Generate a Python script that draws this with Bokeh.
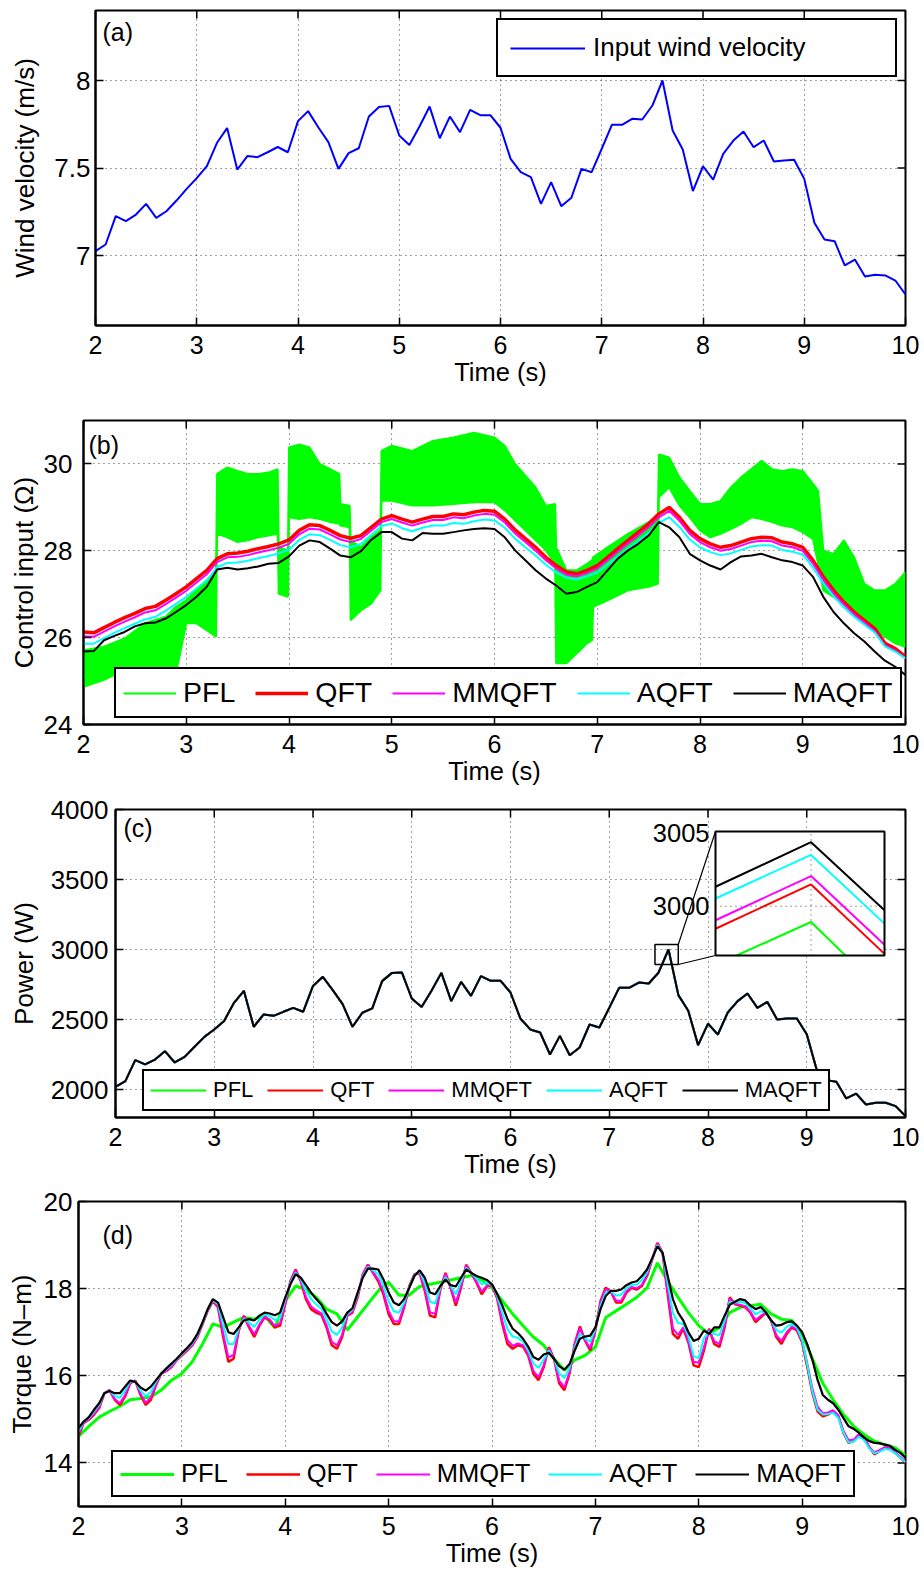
from bokeh.plotting import figure
from bokeh.layouts import column
from bokeh.models import (Range1d, FixedTicker, Legend, LegendItem,
                          Label, NumeralTickFormatter)
from bokeh.embed import file_html
from bokeh.resources import INLINE
from bokeh.core.properties import value

FONT = "Liberation Sans"

# ---------------------------------------------------------------- data
time_s = [round(2 + 0.1 * i, 1) for i in range(81)]
time_fine = [round(2 + 0.05 * i, 2) for i in range(161)]
x_ticks = [2, 3, 4, 5, 6, 7, 8, 9, 10]
x_label = "Time (s)"

# (a) wind velocity (m/s)
wind_ticks = [7, 7.5, 8]
wind_speed = [
    7.025, 7.063, 7.225, 7.196, 7.234, 7.295, 7.215, 7.253, 7.314, 7.381,
    7.442, 7.511, 7.644, 7.728, 7.491, 7.568, 7.562, 7.590, 7.620, 7.590,
    7.768, 7.825, 7.733, 7.648, 7.495, 7.585, 7.613, 7.794, 7.848, 7.855,
    7.686, 7.632, 7.737, 7.851, 7.670, 7.794, 7.705, 7.832, 7.802, 7.802,
    7.730, 7.552, 7.476, 7.448, 7.295, 7.419, 7.282, 7.330, 7.495, 7.476,
    7.610, 7.747, 7.747, 7.781, 7.777, 7.857, 8.000, 7.714, 7.606, 7.368,
    7.510, 7.434, 7.581, 7.657, 7.709, 7.619, 7.657, 7.537, 7.543, 7.547,
    7.438, 7.187, 7.091, 7.082, 6.943, 6.977, 6.880, 6.890, 6.886, 6.857,
    6.777]

# (b) control input (Ohm)
ctrl_ticks = [24, 26, 28, 30]
ctrl_pfl_t = [2.0, 2.2, 2.4, 2.6, 2.8, 2.9, 3.0, 3.1, 3.2, 3.29, 3.3, 3.4, 3.5, 3.6, 3.7,
              3.8, 3.89, 3.9, 3.99, 4.0, 4.1, 4.2, 4.3, 4.4, 4.49, 4.5, 4.59, 4.6, 4.7,
              4.8, 4.89, 4.9, 5.0, 5.2, 5.4, 5.6, 5.8, 6.0, 6.1, 6.2, 6.3, 6.4, 6.5, 6.59,
              6.6, 6.7, 6.8, 6.9, 6.95, 6.96, 7.1, 7.3, 7.5, 7.59, 7.6, 7.7, 7.8, 7.9, 8.0,
              8.1, 8.2, 8.3, 8.4, 8.5, 8.6, 8.7, 8.8, 8.9, 9.0, 9.1, 9.15, 9.2, 9.3, 9.4,
              9.5, 9.6, 9.7, 9.8, 9.9, 10.0]
ctrl_pfl_high = [25.71, 25.79, 25.98, 26.33, 26.48, 26.71, 26.86, 27.09, 27.32, 27.55, 29.77,
                 29.92, 29.84, 29.77, 29.77, 29.80, 29.88, 28.08, 28.01, 30.38, 30.45, 30.38,
                 30.00, 29.88, 29.77, 29.08, 29.04, 28.24, 28.08, 28.31, 28.47, 30.30, 30.42,
                 30.30, 30.53, 30.61, 30.72, 30.61, 30.42, 30.00, 29.73, 29.46, 29.04, 29.08,
                 28.08, 27.55, 27.55, 27.70, 27.78, 27.85, 28.08, 28.39, 28.66, 28.77, 30.22,
                 30.15, 29.69, 29.38, 29.08, 29.08, 29.15, 29.46, 29.69, 29.88, 30.07, 29.88,
                 29.84, 29.88, 29.84, 29.54, 29.38, 28.01, 27.93, 28.24, 27.85, 27.24, 27.09,
                 27.09, 27.24, 27.51]
ctrl_pfl_low = [24.87, 25.03, 25.26, 25.22, 25.33, 25.18, 26.33, 26.33, 26.17, 26.02, 28.39,
                28.31, 28.20, 28.24, 28.31, 28.35, 28.39, 27.01, 26.94, 28.77, 28.73, 28.77,
                28.73, 28.66, 28.62, 28.58, 28.54, 26.40, 26.63, 26.78, 27.09, 29.15, 29.15,
                29.04, 29.04, 29.08, 29.12, 29.12, 28.93, 28.70, 28.47, 28.24, 28.01, 27.70,
                25.41, 25.41, 25.64, 25.87, 25.94, 26.71, 26.86, 27.09, 27.17, 27.24, 29.23,
                29.46, 29.04, 28.77, 28.47, 28.31, 28.39, 28.50, 28.62, 28.77, 28.73, 28.66,
                28.58, 28.54, 28.43, 28.27, 27.70, 27.09, 26.94, 26.78, 26.63, 26.33, 26.17,
                26.02, 25.87, 25.79]
ctrl_qft = [
    26.13, 26.11, 26.23, 26.35, 26.46, 26.56, 26.67, 26.72, 26.86, 27.01,
    27.17, 27.36, 27.55, 27.82, 27.93, 27.95, 27.99, 28.05, 28.10, 28.16,
    28.25, 28.47, 28.60, 28.58, 28.47, 28.35, 28.29, 28.35, 28.54, 28.73,
    28.81, 28.73, 28.66, 28.73, 28.79, 28.79, 28.85, 28.83, 28.89, 28.93,
    28.91, 28.73, 28.48, 28.28, 28.08, 27.85, 27.66, 27.51, 27.47, 27.55,
    27.66, 27.85, 28.05, 28.24, 28.43, 28.62, 28.85, 29.00, 28.77, 28.47,
    28.28, 28.16, 28.08, 28.12, 28.20, 28.28, 28.31, 28.30, 28.20, 28.16,
    28.08, 27.78, 27.40, 27.09, 26.82, 26.59, 26.40, 26.21, 25.87, 25.75,
    25.56]
ctrl_mmqft = [
    26.03, 26.02, 26.14, 26.26, 26.37, 26.47, 26.58, 26.63, 26.77, 26.92,
    27.08, 27.27, 27.46, 27.74, 27.85, 27.86, 27.90, 27.96, 28.01, 28.07,
    28.16, 28.38, 28.51, 28.49, 28.38, 28.26, 28.20, 28.27, 28.46, 28.66,
    28.73, 28.65, 28.58, 28.65, 28.71, 28.71, 28.77, 28.75, 28.81, 28.85,
    28.83, 28.65, 28.40, 28.20, 28.00, 27.78, 27.59, 27.45, 27.41, 27.49,
    27.59, 27.78, 27.98, 28.17, 28.35, 28.54, 28.77, 28.92, 28.69, 28.39,
    28.20, 28.08, 28.00, 28.04, 28.12, 28.20, 28.23, 28.22, 28.12, 28.08,
    28.00, 27.70, 27.33, 27.02, 26.76, 26.53, 26.34, 26.15, 25.82, 25.70,
    25.52]
ctrl_aqft = [
    25.86, 25.86, 25.99, 26.11, 26.22, 26.32, 26.42, 26.48, 26.62, 26.78,
    26.94, 27.13, 27.32, 27.62, 27.72, 27.73, 27.77, 27.83, 27.88, 27.94,
    28.03, 28.25, 28.38, 28.36, 28.25, 28.13, 28.08, 28.16, 28.37, 28.57,
    28.63, 28.52, 28.45, 28.53, 28.58, 28.58, 28.64, 28.62, 28.68, 28.72,
    28.70, 28.53, 28.28, 28.08, 27.89, 27.68, 27.50, 27.38, 27.34, 27.41,
    27.50, 27.68, 27.87, 28.05, 28.23, 28.41, 28.64, 28.77, 28.55, 28.26,
    28.08, 27.97, 27.90, 27.94, 28.02, 28.10, 28.13, 28.12, 28.02, 27.98,
    27.91, 27.61, 27.25, 26.95, 26.70, 26.48, 26.30, 26.12, 25.80, 25.68,
    25.52]
ctrl_maqft = [
    25.68, 25.69, 25.94, 26.04, 26.13, 26.26, 26.33, 26.35, 26.44, 26.59,
    26.75, 26.94, 27.17, 27.57, 27.61, 27.57, 27.60, 27.64, 27.70, 27.72,
    27.87, 28.12, 28.24, 28.20, 28.05, 27.89, 27.85, 27.99, 28.25, 28.43,
    28.43, 28.28, 28.24, 28.41, 28.39, 28.39, 28.43, 28.47, 28.50, 28.52,
    28.50, 28.31, 28.01, 27.78, 27.55, 27.36, 27.20, 27.01, 27.05, 27.17,
    27.28, 27.55, 27.82, 28.01, 28.16, 28.35, 28.66, 28.54, 28.31, 27.93,
    27.78, 27.66, 27.57, 27.74, 27.87, 27.89, 27.93, 27.85, 27.78, 27.74,
    27.66, 27.40, 26.94, 26.59, 26.33, 26.10, 25.91, 25.68, 25.47, 25.33,
    25.14]

# (c) power (W) -- the five controllers coincide at this scale
power_ticks = [2000, 2500, 3000, 3500, 4000]
power_w = [
    2019, 2060, 2210, 2179, 2214, 2274, 2193, 2233, 2305, 2376,
    2429, 2490, 2619, 2705, 2448, 2536, 2526, 2555, 2583, 2555,
    2740, 2805, 2710, 2610, 2448, 2548, 2579, 2774, 2833, 2836,
    2650, 2590, 2705, 2833, 2631, 2769, 2669, 2810, 2776, 2776,
    2693, 2507, 2429, 2407, 2250, 2383, 2245, 2300, 2464, 2443,
    2583, 2726, 2726, 2764, 2757, 2836, 3000, 2674, 2562, 2317,
    2471, 2393, 2550, 2631, 2686, 2583, 2626, 2500, 2507, 2507,
    2395, 2143, 2067, 2055, 1936, 1971, 1893, 1905, 1905, 1881,
    1810]
# inset (zoom around the peak at t = 7.6 s)
inset_ticks = [3000, 3005]
inset_t = [7.59814, 7.6, 7.60143]
inset_pfl_t = [7.59855, 7.6, 7.60067]
inset_pfl = [2996.63, 2998.92, 2996.63]
inset_qft = [2998.46, 3001.49, 2996.74]
inset_mmqft = [2999.04, 3002.06, 2997.36]
inset_aqft = [3000.53, 3003.51, 2998.81]
inset_maqft = [3001.33, 3004.38, 2999.72]
inset_xlim = (7.59814, 7.60143)
inset_ylim = (2996.63, 3005.11)
zoom_box = (7.463, 7.699, 2893, 3036)

# (d) torque (N-m)
torque_ticks = [14, 16, 18, 20]
torque_pfl = [
    14.61, 14.84, 15.05, 15.18, 15.30, 15.45, 15.48, 15.52, 15.67, 15.90,
    16.05, 16.32, 16.73, 17.19, 17.11, 17.23, 17.34, 17.30, 17.38, 17.10,
    17.72, 18.06, 17.98, 17.80, 17.53, 17.42, 17.05, 17.35, 17.65, 17.95,
    18.15, 17.85, 17.85, 18.05, 18.10, 18.15, 18.20, 18.25, 18.30, 18.20,
    18.02, 17.72, 17.42, 17.15, 16.89, 16.70, 16.39, 16.13, 16.36, 16.47,
    16.66, 17.34, 17.49, 17.64, 17.80, 18.02, 18.59, 18.17, 17.80, 17.45,
    17.15, 16.96, 17.11, 17.45, 17.57, 17.61, 17.64, 17.42, 17.30, 17.27,
    16.96, 16.39, 15.83, 15.45, 15.11, 14.84, 14.65, 14.50, 14.42, 14.35,
    14.17]
torque_qft = [
    14.61, 14.92, 14.99, 15.11, 15.26, 15.60, 15.67, 15.45, 15.33, 15.52,
    15.83, 15.89, 15.56, 15.33, 15.45, 15.79, 16.05, 16.11, 16.20, 16.36,
    16.47, 16.58, 16.70, 16.89, 17.19, 17.49, 17.72, 17.57, 16.89, 16.32,
    16.39, 17.04, 17.38, 17.11, 16.89, 17.15, 17.34, 17.27, 17.11, 17.15,
    17.64, 18.17, 18.44, 18.17, 17.76, 17.53, 17.45, 17.40, 17.11, 16.70,
    16.62, 16.89, 17.38, 17.45, 17.80, 18.33, 18.55, 18.36, 18.17, 17.87,
    17.42, 17.19, 17.19, 17.57, 18.06, 18.33, 18.36, 17.95, 17.38, 17.34,
    17.98, 18.36, 18.02, 17.61, 18.02, 18.55, 18.36, 18.14, 17.87, 18.05,
    18.08, 17.78, 17.19, 16.73, 16.62, 16.70, 16.67, 16.47, 16.05, 15.90,
    16.20, 16.66, 16.39, 15.83, 15.67, 16.05, 16.73, 17.13, 16.81, 16.58,
    17.04, 17.72, 18.02, 17.93, 17.68, 17.68, 17.91, 18.02, 17.98, 18.06,
    18.29, 18.67, 19.05, 18.82, 17.87, 16.96, 16.85, 17.08, 16.77, 16.24,
    16.20, 16.58, 17.08, 16.73, 16.66, 17.11, 17.80, 17.64, 17.61, 17.57,
    17.45, 17.23, 17.34, 17.45, 17.27, 16.89, 16.73, 16.96, 17.11, 17.04,
    16.77, 16.20, 15.60, 15.18, 15.07, 15.11, 15.18, 15.07, 14.69, 14.46,
    14.50, 14.65, 14.58, 14.35, 14.20, 14.27, 14.35, 14.33, 14.23, 14.12,
    14.01]
torque_mmqft = [
    14.64, 14.92, 15.00, 15.13, 15.28, 15.60, 15.67, 15.47, 15.37, 15.55,
    15.84, 15.89, 15.59, 15.38, 15.50, 15.81, 16.05, 16.12, 16.21, 16.36,
    16.48, 16.59, 16.71, 16.90, 17.20, 17.50, 17.73, 17.59, 16.96, 16.42,
    16.48, 17.05, 17.36, 17.14, 16.95, 17.18, 17.36, 17.29, 17.15, 17.20,
    17.66, 18.16, 18.42, 18.18, 17.81, 17.59, 17.50, 17.43, 17.16, 16.78,
    16.70, 16.94, 17.39, 17.47, 17.82, 18.32, 18.54, 18.38, 18.21, 17.92,
    17.49, 17.26, 17.25, 17.60, 18.05, 18.32, 18.37, 17.99, 17.46, 17.42,
    17.99, 18.34, 18.03, 17.68, 18.05, 18.53, 18.36, 18.16, 17.93, 18.07,
    18.08, 17.80, 17.25, 16.82, 16.69, 16.74, 16.70, 16.50, 16.11, 15.97,
    16.24, 16.64, 16.39, 15.89, 15.74, 16.08, 16.71, 17.09, 16.82, 16.63,
    17.05, 17.69, 17.99, 17.93, 17.72, 17.72, 17.94, 18.04, 18.01, 18.09,
    18.31, 18.67, 19.04, 18.82, 17.93, 17.08, 16.94, 17.11, 16.80, 16.32,
    16.30, 16.65, 17.06, 16.79, 16.73, 17.15, 17.77, 17.65, 17.63, 17.59,
    17.47, 17.28, 17.38, 17.45, 17.27, 16.93, 16.80, 17.00, 17.13, 17.06,
    16.80, 16.28, 15.71, 15.29, 15.14, 15.16, 15.21, 15.09, 14.74, 14.52,
    14.54, 14.66, 14.58, 14.37, 14.24, 14.30, 14.36, 14.34, 14.24, 14.14,
    14.03]
torque_aqft = [
    14.72, 14.94, 15.03, 15.18, 15.33, 15.60, 15.66, 15.54, 15.49, 15.66,
    15.87, 15.87, 15.66, 15.53, 15.63, 15.86, 16.05, 16.15, 16.25, 16.38,
    16.50, 16.62, 16.74, 16.93, 17.21, 17.51, 17.74, 17.64, 17.16, 16.73,
    16.73, 17.08, 17.31, 17.22, 17.12, 17.29, 17.41, 17.37, 17.28, 17.33,
    17.74, 18.13, 18.37, 18.22, 17.95, 17.76, 17.64, 17.54, 17.30, 17.02,
    16.94, 17.11, 17.42, 17.51, 17.87, 18.28, 18.50, 18.42, 18.33, 18.07,
    17.71, 17.48, 17.45, 17.68, 18.04, 18.31, 18.40, 18.13, 17.70, 17.66,
    18.03, 18.27, 18.06, 17.87, 18.16, 18.48, 18.36, 18.23, 18.10, 18.14,
    18.09, 17.84, 17.44, 17.07, 16.90, 16.87, 16.78, 16.59, 16.28, 16.18,
    16.37, 16.58, 16.39, 16.06, 15.95, 16.18, 16.64, 16.96, 16.86, 16.78,
    17.08, 17.61, 17.91, 17.94, 17.84, 17.86, 18.01, 18.09, 18.09, 18.20,
    18.38, 18.69, 19.00, 18.82, 18.12, 17.44, 17.21, 17.19, 16.91, 16.45,
    16.40, 16.86, 17.01, 16.96, 16.93, 17.27, 17.70, 17.68, 17.70, 17.67,
    17.55, 17.41, 17.48, 17.45, 17.27, 17.05, 16.99, 17.12, 17.19, 17.11,
    16.82, 16.25, 15.64, 15.22, 15.11, 15.12, 15.15, 15.03, 14.70, 14.47,
    14.49, 14.60, 14.52, 14.33, 14.22, 14.26, 14.32, 14.30, 14.22, 14.12,
    14.02]
torque_maqft = [
    14.80, 14.95, 15.05, 15.22, 15.37, 15.60, 15.65, 15.60, 15.60, 15.75,
    15.89, 15.86, 15.73, 15.66, 15.75, 15.90, 16.05, 16.17, 16.28, 16.39,
    16.52, 16.64, 16.77, 16.96, 17.23, 17.53, 17.76, 17.68, 17.34, 17.00,
    16.96, 17.11, 17.27, 17.30, 17.27, 17.38, 17.45, 17.43, 17.39, 17.45,
    17.80, 18.10, 18.33, 18.25, 18.08, 17.91, 17.76, 17.63, 17.42, 17.23,
    17.15, 17.25, 17.45, 17.55, 17.91, 18.25, 18.46, 18.46, 18.44, 18.21,
    17.91, 17.68, 17.62, 17.76, 18.02, 18.29, 18.42, 18.25, 17.91, 17.87,
    18.06, 18.21, 18.08, 18.05, 18.25, 18.44, 18.36, 18.29, 18.25, 18.20,
    18.10, 17.88, 17.61, 17.30, 17.08, 16.98, 16.85, 16.67, 16.43, 16.37,
    16.49, 16.53, 16.39, 16.22, 16.14, 16.27, 16.58, 16.85, 16.90, 16.92,
    17.11, 17.53, 17.83, 17.95, 17.95, 17.98, 18.08, 18.14, 18.17, 18.29,
    18.44, 18.70, 18.97, 18.82, 18.29, 17.76, 17.45, 17.27, 17.00, 16.80,
    16.85, 17.04, 16.96, 17.11, 17.11, 17.38, 17.63, 17.70, 17.76, 17.73,
    17.61, 17.53, 17.58, 17.45, 17.27, 17.15, 17.17, 17.23, 17.25, 17.15,
    17.00, 16.72, 16.36, 15.90, 15.56, 15.45, 15.37, 15.22, 15.03, 14.84,
    14.78, 14.69, 14.58, 14.50, 14.46, 14.45, 14.42, 14.39, 14.30, 14.23,
    14.12]

series_names = ["PFL", "QFT", "MMQFT", "AQFT", "MAQFT"]
series_colors = ["#00FF00", "#FF0000", "#FF00FF", "#00FFFF", "#000000"]


# ---------------------------------------------------------------- helpers
def base_fig(fw, fh, yr, left, top, bottom, yticks, ylabel, ylab_standoff,
             ytick_standoff, yfmt=None):
    p = figure(frame_width=fw, frame_height=fh, x_range=Range1d(2, 10),
               y_range=Range1d(*yr), output_backend="svg", toolbar_location=None,
               min_border_left=left, min_border_right=15, min_border_top=top,
               min_border_bottom=bottom, x_axis_label=x_label, y_axis_label=ylabel)
    try:
        p.frame_align = False
    except Exception:
        pass
    p.outline_line_color = "black"
    p.outline_line_width = 2
    p.outline_line_alpha = 1.0
    p.background_fill_color = "white"
    p.border_fill_color = "white"
    xt = FixedTicker(ticks=x_ticks)
    yt = FixedTicker(ticks=yticks)
    for ax, tk in ((p.xaxis[0], xt), (p.yaxis[0], yt)):
        ax.ticker = tk
        ax.axis_line_width = 2
        ax.axis_line_color = "black"
        ax.major_tick_in = 8
        ax.major_tick_out = 0
        ax.major_tick_line_width = 1.5
        ax.major_tick_line_color = "black"
        ax.minor_tick_line_color = None
        ax.major_label_text_font = FONT
        ax.major_label_text_color = "black"
        ax.axis_label_text_font = FONT
        ax.axis_label_text_font_style = "normal"
        ax.axis_label_text_color = "black"
    p.xaxis[0].major_label_text_font_size = "25px"
    p.xaxis[0].axis_label_text_font_size = "25.5px"
    p.xaxis[0].major_label_standoff = 10
    p.xaxis[0].axis_label_standoff = 1
    p.yaxis[0].major_label_text_font_size = "26px"
    p.yaxis[0].axis_label_text_font_size = "26px"
    p.yaxis[0].major_label_standoff = ytick_standoff
    p.yaxis[0].axis_label_standoff = ylab_standoff
    if yfmt is not None:
        p.yaxis[0].formatter = yfmt
    p.xgrid.ticker = xt
    p.ygrid.ticker = yt
    for g in (p.xgrid[0], p.ygrid[0]):
        g.grid_line_color = "black"
        g.grid_line_alpha = 0.75
        g.grid_line_dash = "1 4"
        g.grid_line_width = 1
    # inward tick marks on the top and right edges (box on)
    y0, y1 = yr
    dy = 8.0 * (y1 - y0) / fh
    dx = 8.0 * (10 - 2) / fw
    p.segment(x0=x_ticks, y0=[y1] * len(x_ticks), x1=x_ticks, y1=[y1 - dy] * len(x_ticks),
              line_color="black", line_width=1.5)
    p.segment(x0=[10] * len(yticks), y0=yticks, x1=[10 - dx] * len(yticks), y1=yticks,
              line_color="black", line_width=1.5)
    return p


def add_legend(p, items, **kw):
    leg = Legend(items=[LegendItem(label=l, renderers=[r]) for l, r in items],
                 border_line_color="black", border_line_width=2, border_line_alpha=1.0,
                 background_fill_color="white", background_fill_alpha=1.0,
                 label_text_font=FONT, label_text_color="black", **kw)
    p.add_layout(leg)
    return leg


def panel_label(p, text, x, y):
    p.add_layout(Label(x=x, y=y, x_units="screen", y_units="screen", text=text,
                       text_font=FONT, text_font_size="25px", text_color="black",
                       text_baseline="middle", text_align="left"))


# ---------------------------------------------------------------- (a)
FH_A = 315
p_a = base_fig(810, FH_A, (6.6, 8.4), 95, 10, 70, wind_ticks, "Wind velocity (m/s)",
               11, 5, NumeralTickFormatter(format="0.[0]"))
r_wind = p_a.line(time_s, wind_speed, line_color="#0000FF", line_width=2)
add_legend(p_a, [("Input wind velocity", r_wind)], location="top_right", margin=8,
           padding=12, glyph_width=75, glyph_height=20, label_standoff=8,
           label_width=290, label_text_font_size="26px")
panel_label(p_a, "(a)", 7, FH_A - 21)

# ---------------------------------------------------------------- (b)
FH_B = 304
p_b = base_fig(822, FH_B, (24, 31), 83, 25, 70, ctrl_ticks, "Control input (Ω)", 2, 11)
p_b.varea(x=ctrl_pfl_t, y1=ctrl_pfl_low, y2=ctrl_pfl_high, fill_color="#00FF00")
r_b_pfl = p_b.line(ctrl_pfl_t, ctrl_pfl_low, line_color="#00FF00", line_width=2)
p_b.line(ctrl_pfl_t, ctrl_pfl_high, line_color="#00FF00", line_width=2)
r_b_qft = p_b.line(time_s, ctrl_qft, line_color="#FF0000", line_width=3.5)
r_b_mm = p_b.line(time_s, ctrl_mmqft, line_color="#FF00FF", line_width=2)
r_b_a = p_b.line(time_s, ctrl_aqft, line_color="#00FFFF", line_width=2)
r_b_ma = p_b.line(time_s, ctrl_maqft, line_color="#000000", line_width=2)
add_legend(p_b, list(zip(series_names, [r_b_pfl, r_b_qft, r_b_mm, r_b_a, r_b_ma])),
           location=(31, 6), orientation="horizontal", padding=7, spacing=20,
           glyph_width=53, glyph_height=20, label_standoff=7, label_height=20,
           label_text_font_size="28.5px")
panel_label(p_b, "(b)", 5, FH_B - 24)

# ---------------------------------------------------------------- (c)
FW_C, FH_C = 790, 308
p_c = base_fig(FW_C, FH_C, (1800, 4000), 115, 15, 70, power_ticks, "Power (W)", 9, 7)
r_c = []
for name, col in zip(series_names, series_colors):
    r_c.append(p_c.line(time_s, power_w, line_color=col, line_width=2))

# inset placement inside the frame (pixels from frame left / top)
IN_L, IN_R, IN_T, IN_B = 600, 769, 22, 146
ix0, ix1 = inset_xlim
iy0, iy1 = inset_ylim
sx = (IN_R - IN_L) / (ix1 - ix0)
sy = (IN_B - IN_T) / (iy1 - iy0)
p_c.extra_x_ranges = {"ix": Range1d(ix0 - IN_L / sx, ix1 + (FW_C - IN_R) / sx)}
p_c.extra_y_ranges = {"iy": Range1d(iy0 - (FH_C - IN_B) / sy, iy1 + IN_T / sy)}

zx0, zx1, zy0, zy1 = zoom_box
p_c.quad(left=[zx0], right=[zx1], bottom=[zy0], top=[zy1], fill_color=None,
         line_color="black", line_width=1.5)
cx = 2 + IN_L / FW_C * 8
cy_top = 4000 - IN_T / FH_C * 2200
cy_bot = 4000 - IN_B / FH_C * 2200
p_c.segment(x0=[zx1, zx1], y0=[zy1, zy0], x1=[cx, cx], y1=[cy_top, cy_bot],
            line_color="black", line_width=1.2)

kw_in = dict(x_range_name="ix", y_range_name="iy")
p_c.quad(left=[ix0], right=[ix1], bottom=[iy0], top=[iy1], fill_color="white",
         line_color=None, **kw_in)
p_c.segment(x0=[ix0], y0=[inset_ticks[0]], x1=[ix1], y1=[inset_ticks[0]],
            line_color="black", line_alpha=0.75, line_dash="1 4", line_width=1, **kw_in)
p_c.segment(x0=[inset_t[1]], y0=[iy0], x1=[inset_t[1]], y1=[iy1],
            line_color="black", line_alpha=0.75, line_dash="1 4", line_width=1, **kw_in)
p_c.line(inset_pfl_t, inset_pfl, line_color="#00FF00", line_width=2, **kw_in)
for ys, col in ((inset_qft, "#FF0000"), (inset_mmqft, "#FF00FF"),
                (inset_aqft, "#00FFFF"), (inset_maqft, "#000000")):
    p_c.line(inset_t, ys, line_color=col, line_width=2, **kw_in)
p_c.quad(left=[ix0], right=[ix1], bottom=[iy0], top=[iy1], fill_color=None,
         line_color="black", line_width=2, **kw_in)
p_c.text(x=[ix0] * len(inset_ticks), y=inset_ticks, text=[str(v) for v in inset_ticks],
         text_align="right", text_baseline="middle", x_offset=-6,
         text_font=value(FONT), text_font_size="25.5px", text_color="black", **kw_in)

add_legend(p_c, list(zip(series_names, r_c)), location=(27, 6), orientation="horizontal",
           padding=6, spacing=14, glyph_width=56, glyph_height=20, label_standoff=7,
           label_height=20, label_text_font_size="22px")
panel_label(p_c, "(c)", 8, FH_C - 18)

# ---------------------------------------------------------------- (d)
FH_D = 305
p_d = base_fig(827, FH_D, (13, 20), 78, 14, 69, torque_ticks, "Torque (N–m)", 4, 6)
r_d_pfl = p_d.line(time_s, torque_pfl, line_color="#00FF00", line_width=3)
r_d_qft = p_d.line(time_fine, torque_qft, line_color="#FF0000", line_width=2.5)
r_d_mm = p_d.line(time_fine, torque_mmqft, line_color="#FF00FF", line_width=2)
r_d_a = p_d.line(time_fine, torque_aqft, line_color="#00FFFF", line_width=2)
r_d_ma = p_d.line(time_fine, torque_maqft, line_color="#000000", line_width=2.2)
add_legend(p_d, list(zip(series_names, [r_d_pfl, r_d_qft, r_d_mm, r_d_a, r_d_ma])),
           location=(33, 9), orientation="horizontal", padding=7, spacing=18,
           glyph_width=54, glyph_height=20, label_standoff=7, label_height=20,
           label_text_font_size="25.5px")
panel_label(p_d, "(d)", 24, FH_D - 33)

layout = column(p_a, p_b, p_c, p_d, spacing=0)
open("out.html", "w").write(file_html(layout, INLINE))
